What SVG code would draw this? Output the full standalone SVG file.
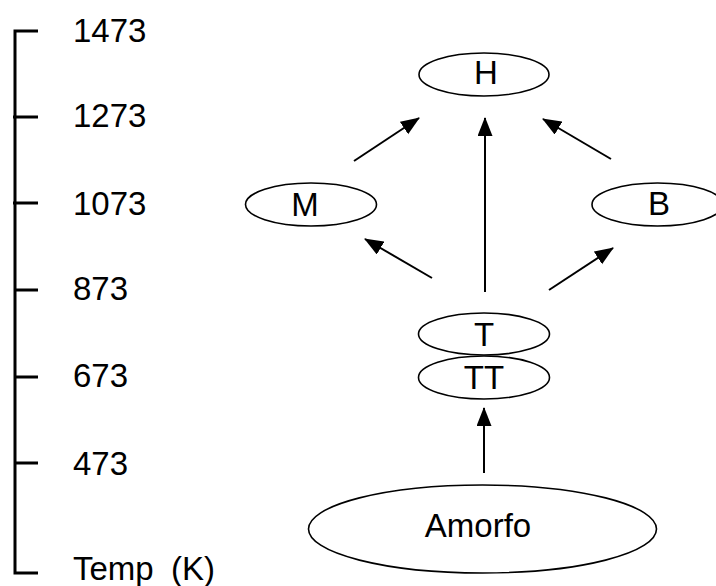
<svg xmlns="http://www.w3.org/2000/svg" width="716" height="586" viewBox="0 0 716 586">
<style>
text{font-family:"Liberation Sans",Arial,sans-serif;font-size:33px;fill:#000}
.lbl{text-anchor:middle}
.node{fill:#fff;stroke:#000;stroke-width:1.6}
.axis{stroke:#000;stroke-width:3;fill:none}
.conn{stroke:#000;stroke-width:2;fill:none;marker-end:url(#ah)}
</style>
<defs>
<marker id="ah" markerUnits="userSpaceOnUse" markerWidth="20" markerHeight="16" refX="18" refY="7.5" orient="auto">
<path d="M0,0 L19,7.5 L0,15 z" fill="#000"/>
</marker>
</defs>
<g id="axis">
<path class="axis" d="M38,31 H15 V573 H38"/>
<path class="axis" d="M13,117 H38 M13,203 H38 M15,290 H38 M15,377 H38 M15,463 H38"/>
<text x="73" y="42">1473</text>
<text x="73" y="127">1273</text>
<text x="73" y="215">1073</text>
<text x="73" y="300">873</text>
<text x="73" y="387">673</text>
<text x="73" y="475">473</text>
<text x="73" y="580">Temp <tspan x="171">(K)</tspan></text>
</g>
<g id="connectors">
<line class="conn" x1="354" y1="161" x2="419" y2="118"/>
<line class="conn" x1="485" y1="292" x2="485" y2="118"/>
<line class="conn" x1="611" y1="159" x2="543" y2="119"/>
<line class="conn" x1="432" y1="278" x2="365" y2="239"/>
<line class="conn" x1="549" y1="290" x2="613" y2="248"/>
<line class="conn" x1="484" y1="473" x2="484" y2="408"/>
</g>
<g id="H"><ellipse class="node" cx="484" cy="74.5" rx="65" ry="21.5"/><text class="lbl" x="486" y="84">H</text></g>
<g id="M"><ellipse class="node" cx="311" cy="204.5" rx="65.5" ry="21.5"/><text class="lbl" x="305" y="216">M</text></g>
<g id="B"><ellipse class="node" cx="657.5" cy="204.5" rx="65.5" ry="21.5"/><text class="lbl" x="659" y="215">B</text></g>
<g id="T"><ellipse class="node" cx="484" cy="334" rx="65.5" ry="21"/><text class="lbl" x="484" y="346">T</text></g>
<g id="TT"><ellipse class="node" cx="484" cy="377.5" rx="65.5" ry="21.5"/><text class="lbl" x="484" y="388.5">TT</text></g>
<g id="Amorfo"><ellipse class="node" cx="482.5" cy="529" rx="174" ry="44"/><text class="lbl" x="478" y="537">Amorfo</text></g>
</svg>
